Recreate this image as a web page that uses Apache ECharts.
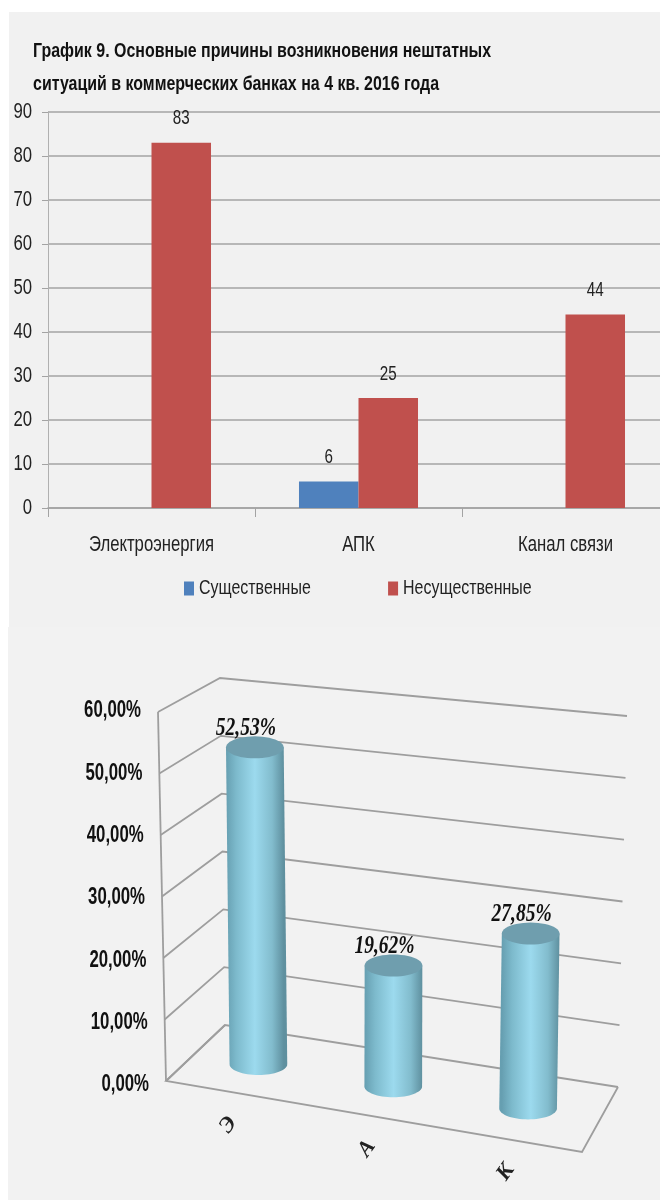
<!DOCTYPE html>
<html><head><meta charset="utf-8">
<style>html,body{margin:0;padding:0;background:#fff}#c{width:660px;height:1200px}</style>
<script src="https://cdn.jsdelivr.net/npm/echarts@6/dist/echarts.min.js"></script>
</head><body><div id="c"></div>
<script>
// top chart data
const titleLines = ['График 9. Основные причины возникновения нештатных', 'ситуаций в коммерческих банках на 4 кв. 2016 года'];
const categories = ['Электроэнергия', 'АПК', 'Канал связи'];
const seriesNames = ['Существенные', 'Несущественные'];
const essential = [null, 6, null];
const nonEssential = [83, 25, 44];
// bottom chart data
const shortCategories = ['Э', 'А', 'К'];
const shareValues = [52.53, 19.62, 27.85];
const shareLabels = ['52,53%', '19,62%', '27,85%'];
const shareTicks = [0, 10, 20, 30, 40, 50, 60];
const shareTickLabels = ['0,00%', '10,00%', '20,00%', '30,00%', '40,00%', '50,00%', '60,00%'];

const SANS = '"Liberation Sans",sans-serif';
const SERIF = '"Liberation Serif",serif';
const SQUEEZE = 0.76;

// Oblique projection of the bottom chart: floor corners and wall rise at axis maximum
const floor = {fl:[166,1081], fr:[582,1152], bl:[225,1025], br:[618,1087]};
const rise = {fl:[-8,-369], fr:[7,-390], bl:[-5,-347], br:[9,-371]};
const bil = (q,u,d) => [0,1].map(i => (q.fl[i]*(1-u)+q.fr[i]*u)*(1-d) + (q.bl[i]*(1-u)+q.br[i]*u)*d);
const project = (u,d,w) => { const f=bil(floor,u,d), r=bil(rise,u,d); return [f[0]+r[0]*w, f[1]+r[1]*w]; };
const toUW = (cs,pt) => [(pt[0]-cs.x)/cs.width, (cs.y+cs.height-pt[1])/cs.height];

const lineStyle3d = {stroke:'#9e9e9e', lineWidth:1.8, fill:null};
const poly = (points) => ({type:'polyline', shape:{points}, style:lineStyle3d, silent:true});

function renderWall(params, api){
  const cs = params.coordSys;
  const v = api.value(1);
  const w = toUW(cs, api.coord([0, v]))[1];
  const kids = [];
  kids.push(poly([project(0,0,w), project(0,1,w), project(1,1,w)]));
  const lp = project(0,0,w);
  kids.push({type:'text', x:lp[0]-17, y:lp[1]+4-5*w, scaleX:0.73,
    style:{text:shareTickLabels[params.dataIndex], font:'bold 23px '+SANS, fill:'#111', align:'right', verticalAlign:'middle'}});
  if (params.dataIndex === 0){
    kids.push(poly([project(0,1,0), project(0,0,0), project(1,0,0), project(1,1,0)]));
    kids.push(poly([project(0,0,0), project(0,0,1)]));
  }
  return {type:'group', children:kids};
}

function ellipse(cx,cy,rx,ry,a0,a1,n){
  const pts=[];
  for(let i=0;i<=n;i++){const a=a0+(a1-a0)*i/n; pts.push([cx+rx*Math.cos(a), cy+ry*Math.sin(a)]);}
  return pts;
}
function renderCyl(params, api){
  const cs = params.coordSys;
  const idx = api.value(0);
  const uwTop = toUW(cs, api.coord([idx, api.value(1)]));
  const uwBase = toUW(cs, api.coord([idx, 0]));
  const u = uwTop[0], d = 0.5, dx = -4.5;
  const t = project(u,d,uwTop[1]), b = project(u,d,uwBase[1]);
  t[0]+=dx; b[0]+=dx;
  const band = api.size([1,0])[0];
  const rx = band*0.208, ry = 11;
  const grad = new echarts.graphic.LinearGradient(t[0]-rx,0,t[0]+rx,0,[
    {offset:0,color:'#669fb1'},{offset:0.18,color:'#7dbacc'},{offset:0.5,color:'#9cdaee'},
    {offset:0.8,color:'#82bccd'},{offset:1,color:'#5f909f'}], true);
  const body = [[t[0]-rx,t[1]]].concat(ellipse(b[0],b[1],rx,ry,Math.PI,0,32), [[t[0]+rx,t[1]]]);
  const f = project(u,0,0);
  return {type:'group', children:[
    {type:'polygon', shape:{points:body}, style:{fill:grad}},
    {type:'polygon', shape:{points:ellipse(t[0],t[1],rx,ry,0,Math.PI*2,48)}, style:{fill:'#6f9eae'}},
    {type:'text', x:t[0]-9, y:t[1]-19, scaleX:0.78,
      style:{text:shareLabels[params.dataIndex], font:'italic bold 25px '+SERIF, fill:'#111', align:'center', verticalAlign:'middle'}},
    {type:'text', x:f[0]-7, y:f[1]+32, rotation:0.95,
      style:{text:shortCategories[params.dataIndex], font:'italic bold 22px '+SERIF, fill:'#222', align:'center', verticalAlign:'middle'}}
  ]};
}

const chart = echarts.init(document.getElementById('c'), null, {renderer:'canvas'});
chart.setOption({
  animation:false,
  backgroundColor:'#fff',
  graphic:[
    {type:'rect', z:-10, shape:{x:9,y:12,width:651,height:615}, style:{fill:'#f1f1f1'}},
    {type:'rect', z:-10, shape:{x:8,y:627,width:652,height:573}, style:{fill:'#f2f2f2'}}
  ],
  title:{
    text:titleLines.join('\n'), left:28, top:30,
    textStyle:{fontFamily:SANS, fontWeight:'bold', fontSize:21, lineHeight:33, color:'#111'}
  },
  legend:{
    data:seriesNames, left:179, top:573, itemWidth:10, itemHeight:14, itemGap:42,
    icon:'rect',
    textStyle:{fontFamily:SANS, fontSize:21, color:'#222'}
  },
  grid:[
    {left:48, top:112, width:621, height:396, outerBoundsMode:'none'},
    {left:166, top:712, width:416, height:369, outerBoundsMode:'none'}
  ],
  xAxis:[
    {type:'category', gridIndex:0, data:categories,
     axisLine:{lineStyle:{color:'#a3a3a3', width:1.6}},
     axisTick:{show:true, length:9, lineStyle:{color:'#a3a3a3'}},
     axisLabel:{fontFamily:SANS, fontSize:22, color:'#222', margin:26, interval:0}},
    {type:'category', gridIndex:1, data:shortCategories, show:false}
  ],
  yAxis:[
    {type:'value', gridIndex:0, min:0, max:90, interval:10,
     axisLine:{show:true, lineStyle:{color:'#b0b0b0', width:1}},
     axisTick:{show:true, length:6, lineStyle:{color:'#a3a3a3'}},
     splitLine:{lineStyle:{color:'#a3a3a3', width:1.6}},
     axisLabel:{fontFamily:SANS, fontSize:22, color:'#222', margin:16}},
    {type:'value', gridIndex:1, min:0, max:60, interval:10, show:false, splitLine:{show:false}}
  ],
  series:[
    {name:seriesNames[0], type:'bar', xAxisIndex:0, yAxisIndex:0, data:essential, barGap:0, barCategoryGap:'42.5%',
     itemStyle:{color:'#4f81bd'},
     label:{show:true, position:'top', distance:14, fontFamily:SANS, fontSize:20, color:'#222'}},
    {name:seriesNames[1], type:'bar', xAxisIndex:0, yAxisIndex:0, data:nonEssential,
     itemStyle:{color:'#c0504d'},
     label:{show:true, position:'top', distance:14, fontFamily:SANS, fontSize:20, color:'#222'}},
    {type:'custom', xAxisIndex:1, yAxisIndex:1, renderItem:renderWall, z:1,
     data:shareTicks.map(v=>[0,v]), silent:true},
    {type:'custom', xAxisIndex:1, yAxisIndex:1, renderItem:renderCyl, z:2,
     data:shareValues.map((v,i)=>[i,v]), silent:true}
  ]
});

// The reference's sans text is a horizontally squeezed face: apply the squeeze to component text.
const zr = chart.getZr();
const squeeze = (t) => {
  if (t && t.style && String(t.style.fontFamily||'').includes('Liberation Sans')) {
    t.scaleX = SQUEEZE;
    t.x += (t.style.x||0)*(1-SQUEEZE);
    t.markRedraw();
  }
};
zr.storage.getRoots().forEach(root => {
  const visit = (el) => {
    if (el.type === 'text') squeeze(el);
    else if (el.getTextContent) squeeze(el.getTextContent());
  };
  visit(root);
  if (root.traverse) root.traverse(visit);
});
zr.refresh();
</script></body></html>
